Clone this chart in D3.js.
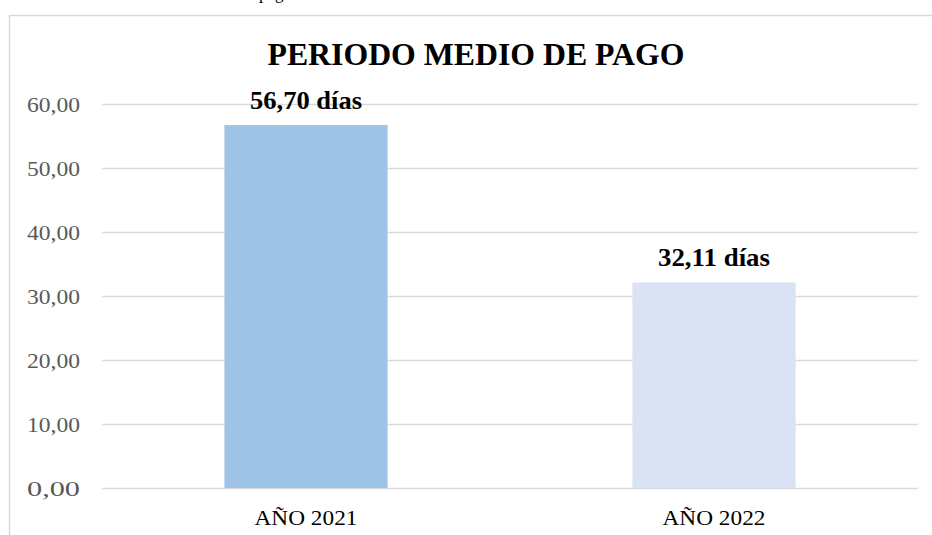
<!DOCTYPE html>
<html>
<head>
<meta charset="utf-8">
<script src="https://cdn.jsdelivr.net/npm/d3@7"></script>
<style>
  html, body { margin: 0; padding: 0; background: #ffffff; }
  svg { display: block; font-family: "Liberation Serif", "Times New Roman", serif; }
</style>
</head>
<body>
<svg id="chart" width="932" height="535"></svg>
<script>
// Periodo medio de pago por año
const categories = ["AÑO 2021", "AÑO 2022"];
const values = [56.70, 32.11];
const valueLabels = ["56,70 días", "32,11 días"];
const barColors = ["#9dc3e6", "#dae3f3"];
const yTicks = [0, 10, 20, 30, 40, 50, 60];
const chartTitle = "PERIODO MEDIO DE PAGO";
const captionText = "Periodo medio de pago";

const svg = d3.select("#chart");
const margin = { left: 102, right: 14, top: 104, bottom: 47 };
const W = 932, H = 535;
const serif = "Liberation Serif, Times New Roman, serif";

// caption line above the chart frame (mostly outside the page)
svg.append("text")
  .attr("x", 292).attr("y", -1)
  .attr("text-anchor", "end")
  .attr("font-size", 17)
  .attr("fill", "#000")
  .text(captionText);

// chart frame
svg.append("rect")
  .attr("x", 9.5).attr("y", 15.5)
  .attr("width", 940).attr("height", 540)
  .attr("fill", "#fff")
  .attr("stroke", "#d9d9d9")
  .attr("stroke-width", 1.5);

const x = d3.scaleBand()
  .domain(categories)
  .range([margin.left, W - margin.right])
  .paddingInner(0.6)
  .paddingOuter(0.3);

const y = d3.scaleLinear()
  .domain([0, 60])
  .range([H - margin.bottom, margin.top]);

// gridlines + value axis labels
const yAxis = d3.axisLeft(y)
  .tickValues(yTicks)
  .tickSize(-(W - margin.right - margin.left))
  .tickPadding(22)
  .tickFormat(d => d3.format(".2f")(d).replace(".", ","));

const gy = svg.append("g")
  .attr("transform", `translate(${margin.left},0)`)
  .call(yAxis);
gy.select(".domain").remove();
gy.selectAll(".tick line").attr("stroke", "#d9d9d9").attr("stroke-width", 1.5);
gy.selectAll(".tick text")
  .attr("fill", "#595959")
  .attr("font-size", 21)
  .attr("font-family", serif)
  .attr("dy", null)
  .attr("y", 7)
  .attr("textLength", 53)
  .attr("lengthAdjust", "spacingAndGlyphs");

// bars
svg.append("g").selectAll("rect")
  .data(values)
  .join("rect")
  .attr("x", (d, i) => x(categories[i]))
  .attr("width", x.bandwidth())
  .attr("y", d => y(d))
  .attr("height", d => y(0) - y(d))
  .attr("fill", (d, i) => barColors[i]);

// value labels
svg.append("g").selectAll("text")
  .data(values)
  .join("text")
  .attr("x", (d, i) => x(categories[i]) + x.bandwidth() / 2)
  .attr("y", d => y(d) - 16)
  .attr("text-anchor", "middle")
  .attr("font-size", 25)
  .attr("font-weight", "bold")
  .attr("fill", "#000")
  .attr("textLength", 112)
  .attr("lengthAdjust", "spacingAndGlyphs")
  .text((d, i) => valueLabels[i]);

// category axis
const xAxis = d3.axisBottom(x).tickSize(0);
const gx = svg.append("g")
  .attr("transform", `translate(0,${H - margin.bottom})`)
  .call(xAxis);
gx.select(".domain").remove();
gx.selectAll(".tick text")
  .attr("fill", "#000")
  .attr("font-size", 22)
  .attr("font-family", serif)
  .attr("dy", null)
  .attr("y", 37)
  .attr("textLength", 103)
  .attr("lengthAdjust", "spacingAndGlyphs");

// title
svg.append("text")
  .attr("x", 476).attr("y", 65)
  .attr("text-anchor", "middle")
  .attr("font-size", 32)
  .attr("font-weight", "bold")
  .attr("fill", "#000")
  .attr("textLength", 417)
  .attr("lengthAdjust", "spacingAndGlyphs")
  .text(chartTitle);
</script>
</body>
</html>
